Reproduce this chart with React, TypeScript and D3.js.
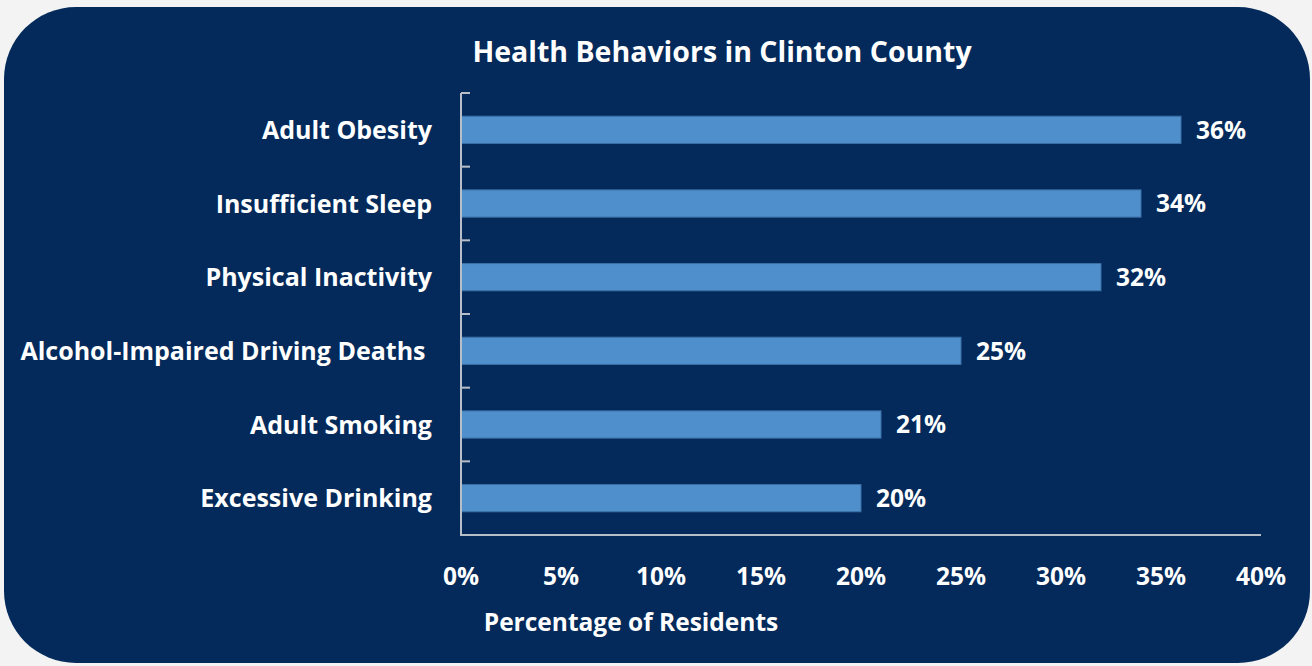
import React from "react";
import * as d3 from "d3";

const categories = [
  "Adult Obesity",
  "Insufficient Sleep",
  "Physical Inactivity",
  "Alcohol-Impaired Driving Deaths ",
  "Adult Smoking",
  "Excessive Drinking",
];
const values = [36, 34, 32, 25, 21, 20];
const xTicks = [0, 5, 10, 15, 20, 25, 30, 35, 40];

const W = 1312;
const H = 666;
const FONT = "'Open Sans', Lato, sans-serif";
const FS = 24.5;

export default function App() {
  const left = 461;
  const right = 1261;
  const top = 93;
  const bottom = 535;
  const x = d3.scaleLinear().domain([0, 40]).range([left, right]);
  const y = d3.scaleBand<string>().domain(categories).range([top, bottom]).paddingInner(0.63).paddingOuter(0.315);
  const band = d3.scaleBand<string>().domain(categories).range([top, bottom]);
  const boundaries = categories.map((c) => band(c) as number);

  return (
    <svg width={W} height={H} style={{ position: "absolute", left: 0, top: 0, display: "block" }}>
      <rect x={0} y={0} width={W} height={H} fill="#f3f3f3" />
      <rect x={4} y={7} width={1306} height={656} rx={72} ry={72} fill="#032a5a" />
      <text x={722} y={62} textAnchor="middle" fill="#ffffff" fontFamily={FONT} fontWeight={700} fontSize={28.5}>
        Health Behaviors in Clinton County
      </text>
      {categories.map((c, i) => (
        <g key={c}>
          <rect
            x={x(0)}
            y={y(c) as number}
            width={x(values[i]) - x(0)}
            height={y.bandwidth()}
            fill="#4f8fcc"
            stroke="#3b6fa5"
            strokeWidth={1}
          />
          <text
            x={x(values[i]) + 15}
            y={(y(c) as number) + y.bandwidth() / 2}
            dy="0.36em"
            fill="#ffffff"
            fontFamily={FONT}
            fontWeight={700}
            fontSize={FS}
          >
            {values[i]}%
          </text>
          <text
            x={432}
            y={(y(c) as number) + y.bandwidth() / 2}
            dy="0.36em"
            textAnchor="end"
            fill="#ffffff"
            fontFamily={FONT}
            fontWeight={700}
            fontSize={25}
            style={{ whiteSpace: "pre" }}
          >
            {c}
          </text>
        </g>
      ))}
      <line x1={left} x2={left} y1={top} y2={bottom} stroke="#b8bec8" strokeWidth={2} />
      <line x1={left - 1} x2={right} y1={bottom} y2={bottom} stroke="#b8bec8" strokeWidth={2} />
      {boundaries.map((b, i) => (
        <line key={i} x1={left} x2={left + 9} y1={b} y2={b} stroke="#b8bec8" strokeWidth={2} />
      ))}
      {xTicks.map((t) => (
        <text
          key={t}
          x={x(t)}
          y={576}
          dy="0.36em"
          textAnchor="middle"
          fill="#ffffff"
          fontFamily={FONT}
          fontWeight={700}
          fontSize={FS}
        >
          {t}%
        </text>
      ))}
      <text x={631} y={622} dy="0.36em" textAnchor="middle" fill="#ffffff" fontFamily={FONT} fontWeight={700} fontSize={FS}>
        Percentage of Residents
      </text>
    </svg>
  );
}
